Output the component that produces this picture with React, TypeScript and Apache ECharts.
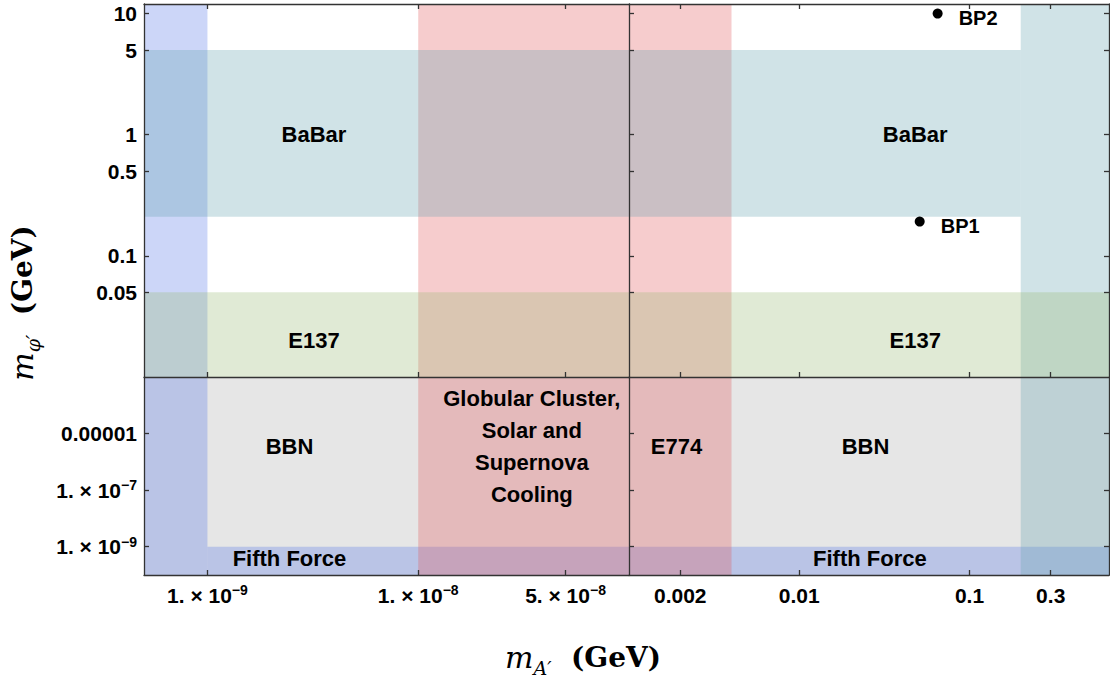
import React, { useEffect, useRef } from 'react';
import * as echarts from 'echarts';

const SANS = '"Liberation Sans", Arial, Helvetica, sans-serif';
const SERIF = '"DejaVu Serif", "Liberation Serif", serif';

// Axis ranges (GeV)
const xLeftRange = [5e-10, 1e-7];
const xRightRange = [1e-3, 0.66];
const yTopRange = [0.01, 12];
const yBottomRange = [1e-10, 1e-3];

// Tick values and labels
const xLeftTicks = [1e-9, 1e-8, 5e-8];
const xLeftTickLabels = ['{n|1. × 10}{e|−9}', '{n|1. × 10}{e|−8}', '{n|5. × 10}{e|−8}'];
const xRightTicks = [0.002, 0.01, 0.1, 0.3];
const xRightTickLabels = ['0.002', '0.01', '0.1', '0.3'];
const yTopTicks = [0.05, 0.1, 0.5, 1, 5, 10];
const yTopTickLabels = ['0.05', '0.1', '0.5', '1', '5', '10'];
const yBottomTicks = [1e-9, 1e-7, 1e-5];
const yBottomTickLabels = ['{n|1. × 10}{e|−9}', '{n|1. × 10}{e|−7}', '0.00001'];

// Excluded regions (m_A' range, m_phi' range)
const regionNames = ['BBN', 'Fifth Force (m_A′)', 'Fifth Force (m_φ′)', 'Stellar Cooling', 'E774', 'BaBar', 'High m_A′', 'E137'];
const regionKind = ['bbn', 'fifth', 'fifth', 'cooling', 'cooling', 'babar', 'babar', 'e137'];
const regionXMin = [1e-11, 1e-11, 1e-9, 1e-8, 1e-3, 1e-11, 0.2, 1e-11];
const regionXMax = [10, 1e-9, 10, 1e-7, 0.004, 0.2, 10, 10];
const regionYMin = [1e-12, 1e-12, 1e-12, 1e-12, 1e-12, 0.21, 1e-12, 0.01];
const regionYMax = [1e-3, 100, 1e-9, 100, 100, 5, 100, 0.05];

// Region text labels
const labelTexts = ['BaBar', 'BaBar', 'E137', 'E137', 'BBN', 'BBN', 'Globular Cluster,\nSolar and\nSupernova\nCooling', 'E774', 'Fifth Force', 'Fifth Force'];
const labelPanel = [0, 1, 0, 1, 2, 3, 2, 3, 2, 3];
const labelX = [3.2e-9, 0.048, 3.2e-9, 0.048, 2.45e-9, 0.0245, 3.46e-8, 0.0019, 2.45e-9, 0.026];
const labelY = [1, 1, 0.02, 0.02, 3.6e-6, 3.6e-6, 3.6e-6, 3.6e-6, 3.7e-10, 3.7e-10];

// Benchmark points
const bpNames = ['BP1', 'BP2'];
const bpX = [0.051, 0.065];
const bpY = [0.192, 10];

const FILL: Record<string, string> = {
  bbn: '#e6e6e6',
  fifth: 'rgba(85,118,232,0.3)',
  cooling: 'rgba(225,85,88,0.3)',
  babar: 'rgba(98,162,175,0.3)',
  e137: 'rgba(152,185,115,0.3)',
};

const RICH = {
  n: { fontSize: 21, fontWeight: 'bold', fontFamily: SANS, color: '#000', lineHeight: 24 },
  e: { fontSize: 14, fontWeight: 'bold', fontFamily: SANS, color: '#000', verticalAlign: 'top', lineHeight: 24 },
};

const LINE = { color: '#333', width: 1.3 };

function mkFmt(ticks: number[], labels: string[]) {
  return (v: number) => {
    let best = 0;
    let bd = Infinity;
    ticks.forEach((t, i) => {
      const d = Math.abs(Math.log10(v) - Math.log10(t));
      if (d < bd) { bd = d; best = i; }
    });
    return labels[best];
  };
}

function xAxisDef(gridIndex: number, range: number[], ticks: number[], labels: string[], position: string, showLabels: boolean) {
  return {
    type: 'log', gridIndex, position, min: range[0], max: range[1], z: 10,
    axisLine: { show: true, onZero: false, lineStyle: LINE },
    axisTick: { show: true, inside: true, length: 5, customValues: ticks, lineStyle: LINE },
    axisLabel: {
      show: showLabels, customValues: ticks, formatter: mkFmt(ticks, labels), margin: 8,
      color: '#000', fontFamily: SANS, fontWeight: 'bold', fontSize: 21, lineHeight: 24, rich: RICH,
    },
    splitLine: { show: false }, minorTick: { show: false }, minorSplitLine: { show: false },
  };
}

function yAxisDef(gridIndex: number, range: number[], ticks: number[], labels: string[], position: string, showLabels: boolean) {
  return {
    type: 'log', gridIndex, position, min: range[0], max: range[1], z: 10,
    axisLine: { show: true, onZero: false, lineStyle: LINE },
    axisTick: { show: true, inside: true, length: 5, customValues: ticks, lineStyle: LINE },
    axisLabel: {
      show: showLabels, customValues: ticks, formatter: mkFmt(ticks, labels), margin: 7,
      color: '#000', fontFamily: SANS, fontWeight: 'bold', fontSize: 21, lineHeight: 24, rich: RICH,
    },
    splitLine: { show: false }, minorTick: { show: false }, minorSplitLine: { show: false },
  };
}

function regionSeries(gi: number) {
  return {
    type: 'custom', xAxisIndex: gi, yAxisIndex: gi, silent: true, z: 1,
    encode: { x: [0, 2], y: [1, 3] },
    data: regionNames.map((n, i) => ({ name: n, value: [regionXMin[i], regionYMin[i], regionXMax[i], regionYMax[i]] })),
    renderItem: (params: any, api: any) => {
      const i = params.dataIndex;
      const a = api.coord([api.value(0), api.value(3)]);
      const b = api.coord([api.value(2), api.value(1)]);
      const cs = params.coordSys;
      const x0 = Math.max(Math.min(a[0], b[0]), cs.x);
      const x1 = Math.min(Math.max(a[0], b[0]), cs.x + cs.width);
      const y0 = Math.max(Math.min(a[1], b[1]), cs.y);
      const y1 = Math.min(Math.max(a[1], b[1]), cs.y + cs.height);
      if (x1 <= x0 || y1 <= y0) return { type: 'group', children: [] };
      return {
        type: 'rect',
        shape: { x: x0, y: y0, width: x1 - x0, height: y1 - y0 },
        style: { fill: FILL[regionKind[i]] },
      };
    },
  };
}

function textSeries(gi: number) {
  const idx = labelTexts.map((_, i) => i).filter((i) => labelPanel[i] === gi);
  return {
    type: 'custom', xAxisIndex: gi, yAxisIndex: gi, silent: true, z: 5,
    data: idx.map((i) => ({ name: labelTexts[i], value: [labelX[i], labelY[i]] })),
    renderItem: (params: any, api: any) => {
      const p = api.coord([api.value(0), api.value(1)]);
      const i = idx[params.dataIndex];
      return {
        type: 'text', x: p[0], y: p[1],
        style: {
          text: labelTexts[i], align: 'center', verticalAlign: 'middle', fill: '#000',
          font: `bold 22px ${SANS}`, lineHeight: 32,
        },
      };
    },
  };
}

function buildOption(): any {
  return {
    animation: false,
    backgroundColor: '#fff',
    grid: [
      { left: 144, top: 4, width: 485, height: 373 },
      { left: 629, top: 4, width: 480, height: 373 },
      { left: 144, top: 377, width: 485, height: 198 },
      { left: 629, top: 377, width: 480, height: 198 },
    ],
    xAxis: [
      xAxisDef(0, xLeftRange, xLeftTicks, xLeftTickLabels, 'bottom', false),
      xAxisDef(1, xRightRange, xRightTicks, xRightTickLabels, 'bottom', false),
      xAxisDef(2, xLeftRange, xLeftTicks, xLeftTickLabels, 'bottom', true),
      xAxisDef(3, xRightRange, xRightTicks, xRightTickLabels, 'bottom', true),
      xAxisDef(0, xLeftRange, xLeftTicks, xLeftTickLabels, 'top', false),
      xAxisDef(1, xRightRange, xRightTicks, xRightTickLabels, 'top', false),
    ],
    yAxis: [
      yAxisDef(0, yTopRange, yTopTicks, yTopTickLabels, 'left', true),
      yAxisDef(1, yTopRange, yTopTicks, yTopTickLabels, 'left', false),
      yAxisDef(2, yBottomRange, yBottomTicks, yBottomTickLabels, 'left', true),
      yAxisDef(3, yBottomRange, yBottomTicks, yBottomTickLabels, 'left', false),
      yAxisDef(1, yTopRange, yTopTicks, yTopTickLabels, 'right', false),
      yAxisDef(3, yBottomRange, yBottomTicks, yBottomTickLabels, 'right', false),
    ],
    series: [
      regionSeries(0), regionSeries(1), regionSeries(2), regionSeries(3),
      textSeries(0), textSeries(1), textSeries(2), textSeries(3),
      {
        type: 'scatter', xAxisIndex: 1, yAxisIndex: 1, z: 6, silent: true,
        symbol: 'circle', symbolSize: 10, itemStyle: { color: '#000', opacity: 1 },
        data: bpNames.map((n, i) => ({ name: n, value: [bpX[i], bpY[i]] })),
        label: {
          show: true, position: 'right', distance: 16, offset: [0, 4], formatter: '{b}',
          color: '#000', fontFamily: SANS, fontWeight: 'bold', fontSize: 20, opacity: 1,
        },
      },
    ],
    graphic: [
      {
        type: 'text', x: 583, y: 657, silent: true,
        style: {
          text: '{m|m}{s|A′}{g|  (GeV)}', align: 'center', verticalAlign: 'middle', fill: '#000',
          rich: {
            m: { fontFamily: SERIF, fontStyle: 'italic', fontSize: 30, lineHeight: 40 },
            s: { fontFamily: SERIF, fontStyle: 'italic', fontSize: 19, verticalAlign: 'bottom', lineHeight: 40 },
            g: { fontFamily: SERIF, fontWeight: 'bold', fontSize: 28, lineHeight: 40 },
          },
        },
      },
      {
        type: 'text', x: 22, y: 303, rotation: Math.PI / 2, silent: true,
        style: {
          text: '{m|m}{s|φ′}{g|  (GeV)}', align: 'center', verticalAlign: 'middle', fill: '#000',
          rich: {
            m: { fontFamily: SERIF, fontStyle: 'italic', fontSize: 30, lineHeight: 40 },
            s: { fontFamily: SERIF, fontStyle: 'italic', fontSize: 19, verticalAlign: 'bottom', lineHeight: 40 },
            g: { fontFamily: SERIF, fontWeight: 'bold', fontSize: 28, lineHeight: 40 },
          },
        },
      },
    ],
  };
}

export default function App() {
  const ref = useRef<HTMLDivElement>(null);
  useEffect(() => {
    document.body.style.margin = '0';
    const chart = echarts.init(ref.current as HTMLDivElement, null, { renderer: 'svg' });
    chart.setOption(buildOption());
    return () => chart.dispose();
  }, []);
  return <div ref={ref} style={{ width: 1110, height: 678 }} />;
}
